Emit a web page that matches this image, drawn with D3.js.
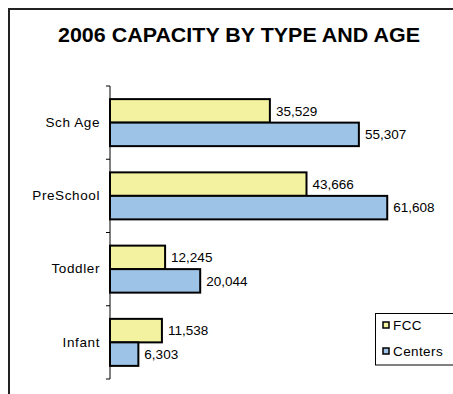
<!DOCTYPE html>
<html><head><meta charset="utf-8">
<script src="https://cdn.jsdelivr.net/npm/d3@7"></script>
<style>html,body{margin:0;padding:0;background:#fff;}svg{display:block;}</style>
</head><body>
<script>
const categories = ["Sch Age", "PreSchool", "Toddler", "Infant"];
const seriesNames = ["FCC", "Centers"];
const fccValues = [35529, 43666, 12245, 11538];
const centersValues = [55307, 61608, 20044, 6303];
const title = "2006 CAPACITY BY TYPE AND AGE";
const colors = {FCC: "#F2F2A0", Centers: "#9DC3E6"};

const W = 453, H = 394;
const svg = d3.select("body").append("svg").attr("width", W).attr("height", H);
const font = "'Liberation Sans', Arial, sans-serif";

// outer frame (cropped at right/bottom)
svg.append("path").attr("d", `M9,${H+5} V9 H${W+5}`).attr("fill","none")
  .attr("stroke","#222").attr("stroke-width",2);

svg.append("text").attr("x", 239).attr("y", 42).attr("text-anchor","middle")
  .attr("font-family", font).attr("font-weight","bold").attr("font-size", 19.5)
  .attr("textLength", 362).attr("lengthAdjust","spacingAndGlyphs")
  .text(title);

const x = d3.scaleLinear().domain([0, 70000]).range([110, 425]);
const y = d3.scaleBand().domain(categories).range([86, 379]).padding(0);
const ySub = d3.scaleBand().domain(seriesNames).range([0, y.bandwidth()]).paddingInner(0).paddingOuter(0.558);

const data = categories.map((c,i)=>({cat:c, vals:[{s:"FCC", v:fccValues[i]},{s:"Centers", v:centersValues[i]}]}));

const g = svg.append("g");
const groups = g.selectAll("g.cat").data(data).join("g").attr("transform", d=>`translate(0,${y(d.cat)})`);
groups.selectAll("rect").data(d=>d.vals).join("rect")
  .attr("x", x(0)).attr("y", d=>ySub(d.s)).attr("width", d=>x(d.v)-x(0)).attr("height", ySub.bandwidth())
  .attr("fill", d=>colors[d.s]).attr("stroke","#000").attr("stroke-width",2);
groups.selectAll("text").data(d=>d.vals).join("text")
  .attr("x", d=>x(d.v)+6).attr("y", d=>ySub(d.s)+ySub.bandwidth()/2).attr("dy","0.36em")
  .attr("font-family", font).attr("font-size", 13.5).attr("fill","#000")
  .text(d=>d3.format(",")(d.v));

// y axis
const axis = d3.axisLeft(y).tickSize(0).tickPadding(10);
const ag = svg.append("g").attr("transform", `translate(${x(0)},0)`).call(axis);
ag.select(".domain").remove();
ag.selectAll("text").attr("font-family", font).attr("font-size", 13.5).attr("letter-spacing", "0.6px").attr("fill","#000");
svg.append("line").attr("x1", x(0)).attr("x2", x(0)).attr("y1", y.range()[0]).attr("y2", y.range()[1]).attr("stroke","#000").attr("stroke-width",1);
const boundaries = categories.map(c=>y(c)).concat([y.range()[1]]);
svg.selectAll("line.tk").data(boundaries).join("line").attr("class","tk")
  .attr("x1", x(0)-4).attr("x2", x(0)).attr("y1", d=>d).attr("y2", d=>d).attr("stroke","#000");

// legend
const lg = svg.append("g");
lg.append("rect").attr("x",375.5).attr("y",313.5).attr("width",90).attr("height",51.5).attr("fill","#fff").attr("stroke","#000");
seriesNames.forEach((s,i)=>{
  const cy = 325 + i*26;
  lg.append("rect").attr("x",383).attr("y",cy-3).attr("width",6).attr("height",6).attr("fill",colors[s]).attr("stroke","#000").attr("stroke-width",1.5);
  lg.append("text").attr("x",393).attr("y",cy).attr("dy","0.36em").attr("font-family",font).attr("font-size",13.5).attr("letter-spacing","0.4px").text(s);
});
</script>
</body></html>
